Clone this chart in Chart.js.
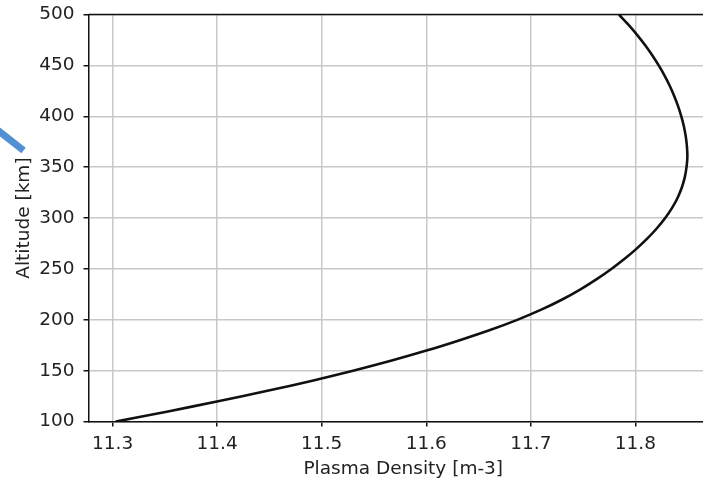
<!DOCTYPE html>
<html>
<head>
<meta charset="utf-8">
<script src="https://cdn.jsdelivr.net/npm/chart.js@4.4.1/dist/chart.umd.min.js"></script>
<style>
  html, body { margin: 0; padding: 0; background: #fff; overflow: hidden; }
  #wrap { position: relative; width: 730px; height: 482px; }
  #pointer {
    position: absolute; left: -14px; top: 134px; width: 42px; height: 7px;
    background: #5090d3; transform: rotate(38deg);
  }
</style>
</head>
<body>
<div id="wrap">
  <canvas id="profile" width="730" height="482"></canvas>
  <div id="pointer"></div>
</div>
<script>
// electron density profile, log10 scale
const altitude = [100, 110, 120, 130, 140, 150, 160, 170, 180, 190, 200, 210, 220, 230,
                  240, 250, 260, 270, 280, 290, 300, 310, 320, 330, 340, 350, 360, 370,
                  380, 390, 400, 410, 420, 430, 440, 450, 460, 470, 480, 490, 500];
const density = [11.303, 11.353, 11.401, 11.447, 11.490, 11.530, 11.567, 11.601, 11.632,
                 11.661, 11.687, 11.710, 11.730, 11.7475, 11.763, 11.777, 11.7897, 11.8012,
                 11.8115, 11.8206, 11.8285, 11.8351, 11.8404, 11.8444, 11.8472, 11.8489, 11.8497,
                 11.8493, 11.8482, 11.8464, 11.8439, 11.8408, 11.8371, 11.8328, 11.8279, 11.8223,
                 11.8161, 11.8092, 11.8016, 11.7933, 11.7843];
const xTicks = [11.3, 11.4, 11.5, 11.6, 11.7, 11.8];
const yTicks = [100, 150, 200, 250, 300, 350, 400, 450, 500];

const font = { family: 'DejaVu Sans', size: 18.5 };
const ink = '#222';

// top/right spines
const frame = {
  id: 'frame',
  afterDraw(chart) {
    const { ctx, chartArea: a } = chart;
    ctx.save();
    ctx.strokeStyle = '#111';
    ctx.lineWidth = 1.5;
    ctx.beginPath();
    ctx.moveTo(a.left, a.top);
    ctx.lineTo(a.right, a.top);
    ctx.lineTo(a.right, a.bottom);
    ctx.stroke();
    ctx.restore();
  }
};

new Chart(document.getElementById('profile'), {
  type: 'scatter',
  data: {
    datasets: [{
      data: altitude.map((h, i) => ({ x: density[i], y: h })),
      showLine: true,
      borderColor: '#111',
      borderWidth: 2.6,
      pointRadius: 0,
      tension: 0.4,
      fill: false
    }]
  },
  options: {
    responsive: false,
    animation: false,
    layout: { padding: { left: 13, right: 12, top: 0, bottom: 2 } },
    plugins: { legend: { display: false }, tooltip: { enabled: false } },
    scales: {
      x: {
        type: 'linear',
        min: 11.277,
        max: 11.879,
        afterBuildTicks: axis => { axis.ticks = xTicks.map(v => ({ value: v })); },
        ticks: { font, color: ink, padding: 6, maxRotation: 0, callback: v => v.toFixed(1) },
        grid: { color: '#c8c8c8', lineWidth: 1.5, tickLength: 5, tickColor: '#111' },
        border: { color: '#111', width: 1.5 },
        title: { display: true, text: 'Plasma Density [m-3]', font, color: ink, padding: { top: -3, bottom: 0 } }
      },
      y: {
        type: 'linear',
        min: 100,
        max: 500,
        afterBuildTicks: axis => { axis.ticks = yTicks.map(v => ({ value: v })); },
        ticks: { font: { ...font, lineHeight: 0.6 }, color: ink, padding: 9 },
        grid: { color: '#c8c8c8', lineWidth: 1.5, tickLength: 5, tickColor: '#111' },
        border: { color: '#111', width: 1.5 },
        title: { display: true, text: 'Altitude [km]', font, color: ink, padding: { top: 0, bottom: -5 } }
      }
    }
  },
  plugins: [frame]
});
</script>
</body>
</html>
